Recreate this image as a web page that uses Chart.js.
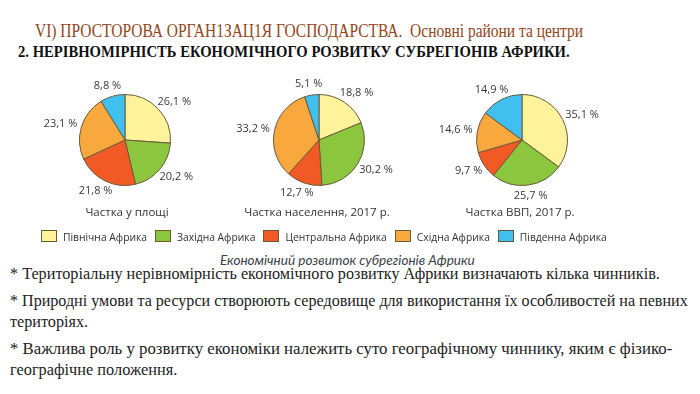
<!DOCTYPE html>
<html>
<head>
    <meta charset="utf-8">
    <title>Економічний розвиток субрегіонів Африки</title>
    <script src="https://cdn.jsdelivr.net/npm/chart.js@4.4.1/dist/chart.umd.min.js"></script>
    <style>
        html, body {
            margin: 0;
            padding: 0;
            background: #fff;
        }
        body {
            width: 700px;
            height: 394px;
            position: relative;
            overflow: hidden;
        }
        .line {
            position: absolute;
            white-space: nowrap;
            transform-origin: left center;
        }
        .title1 {
            left: 35px; top: 20px;
            font-family: "Liberation Serif", serif;
            font-size: 19px;
            color: #94461a;
        }
        .title2 {
            left: 18px; top: 42px;
            font-family: "Liberation Serif", serif;
            font-weight: bold;
            font-size: 17px;
            color: #111;
        }
        .text {
            left: 10px;
            font-family: "Liberation Serif", serif;
            font-size: 17px;
            color: #222;
        }
        .pie {
            position: absolute;
            top: 75px;
            width: 200px;
            height: 130px;
        }
        .caption {
            position: absolute;
            top: 204px;
            width: 200px;
            text-align: center;
            font-family: "Open Sans", sans-serif;
            font-size: 11.5px;
            color: #333;
        }
        #legend {
            position: absolute;
            left: 41px; top: 230px;
            display: flex;
            font-family: "Open Sans", sans-serif;
            font-size: 10.3px;
            color: #333;
            white-space: nowrap;
        }
        #legend span.box {
            display: inline-block;
            width: 14px; height: 10px;
            border: 1px solid #6a5a3c;
            margin-right: 6px;
            vertical-align: -1px;
        }
        #legend .item { margin-right: 8px; }
        .subtitle {
            left: 220px; top: 252px;
            font-family: Lato, "Open Sans", sans-serif;
            font-style: italic;
            font-size: 13.5px;
            color: #3a3f48;
        }
    </style>
</head>
<body>
    <div class="line title1" data-fit="548">VI) ПРОСТОРОВА ОРГАН1ЗАЦ1Я ГОСПОДАРСТВА.&nbsp; Основні райони та центри</div>
    <div class="line title2" data-fit="552">2. НЕРІВНОМІРНІСТЬ ЕКОНОМІЧНОГО РОЗВИТКУ СУБРЕГІОНІВ АФРИКИ.</div>

    <div class="pie" style="left:25px"><canvas id="pie1"></canvas></div>
    <div class="pie" style="left:219px"><canvas id="pie2"></canvas></div>
    <div class="pie" style="left:422px"><canvas id="pie3"></canvas></div>

    <div class="caption" id="cap1" style="left:27px"></div>
    <div class="caption" id="cap2" style="left:217px"></div>
    <div class="caption" id="cap3" style="left:420px"></div>

    <div id="legend"></div>
    <div class="line subtitle" data-fit="255">Економічний розвиток субрегіонів Африки</div>

    <div class="line text" style="top:264px" data-fit="650">* Територіальну нерівномірність економічного розвитку Африки визначають кілька чинників.</div>
    <div class="line text" style="top:291px" data-fit="678">* Природні умови та ресурси створюють середовище для використання їх особливостей на певних</div>
    <div class="line text" style="top:312px" data-fit="78">територіях.</div>
    <div class="line text" style="top:339px" data-fit="662">* Важлива роль у розвитку економіки належить суто географічному чиннику, яким є фізико-</div>
    <div class="line text" style="top:360px" data-fit="167">географічне положення.</div>

    <script>
        // Subregions (clockwise from 12 o'clock)
        const regions = ['Північна Африка', 'Західна Африка', 'Центральна Африка', 'Східна Африка', 'Південна Африка'];
        const regionColors = ['#fef39b', '#8cc63f', '#f15a24', '#f9a83e', '#3fc0ef'];

        const captions = ['Частка у площі', 'Частка населення, 2017 р.', 'Частка ВВП, 2017 р.'];
        const areaShare = [26.1, 20.2, 21.8, 23.1, 8.8];
        const populationShare = [18.8, 30.2, 12.7, 33.2, 5.1];
        const gdpShare = [35.1, 25.7, 9.7, 14.6, 14.9];

        // Percent labels just outside each slice
        const outsideLabels = {
            id: 'outsideLabels',
            afterDatasetsDraw(chart) {
                const ctx = chart.ctx;
                const meta = chart.getDatasetMeta(0);
                const values = chart.data.datasets[0].data;
                ctx.save();
                ctx.font = '11px "Open Sans", sans-serif';
                ctx.fillStyle = '#3a3a3a';
                ctx.textBaseline = 'middle';
                ctx.textAlign = 'left';
                meta.data.forEach((arc, i) => {
                    const mid = (arc.startAngle + arc.endAngle) / 2;
                    const text = values[i].toFixed(1).replace('.', ',') + ' %';
                    const w = ctx.measureText(text).width;
                    const d = arc.outerRadius + 5;
                    const c = Math.cos(mid), s = Math.sin(mid);
                    const px = arc.x + c * d;
                    const py = arc.y + s * d;
                    ctx.fillText(text, px - w * (1 - c) / 2, py + s * 6);
                });
                ctx.restore();
            }
        };

        function makePie(id, values) {
            new Chart(document.getElementById(id), {
                type: 'pie',
                data: {
                    labels: regions,
                    datasets: [{
                        data: values,
                        backgroundColor: regionColors,
                        borderColor: '#6a5a3c',
                        borderWidth: 1
                    }]
                },
                options: {
                    responsive: true,
                    maintainAspectRatio: false,
                    animation: false,
                    layout: { padding: { top: 19, bottom: 19 } },
                    plugins: {
                        legend: { display: false },
                        tooltip: { enabled: false }
                    }
                },
                plugins: [outsideLabels]
            });
        }

        makePie('pie1', areaShare);
        makePie('pie2', populationShare);
        makePie('pie3', gdpShare);

        captions.forEach((c, i) => {
            document.getElementById('cap' + (i + 1)).textContent = c;
        });

        // Legend row
        const legend = document.getElementById('legend');
        regions.forEach((r, i) => {
            const item = document.createElement('div');
            item.className = 'item';
            item.innerHTML = '<span class="box" style="background:' + regionColors[i] + '"></span>' + r;
            legend.appendChild(item);
        });

        // Squeeze text lines to the slide's condensed widths
        document.querySelectorAll('[data-fit]').forEach(el => {
            const target = +el.dataset.fit;
            const w = el.scrollWidth;
            el.style.transform = 'scaleX(' + (target / w) + ')';
        });
    </script>
</body>
</html>
